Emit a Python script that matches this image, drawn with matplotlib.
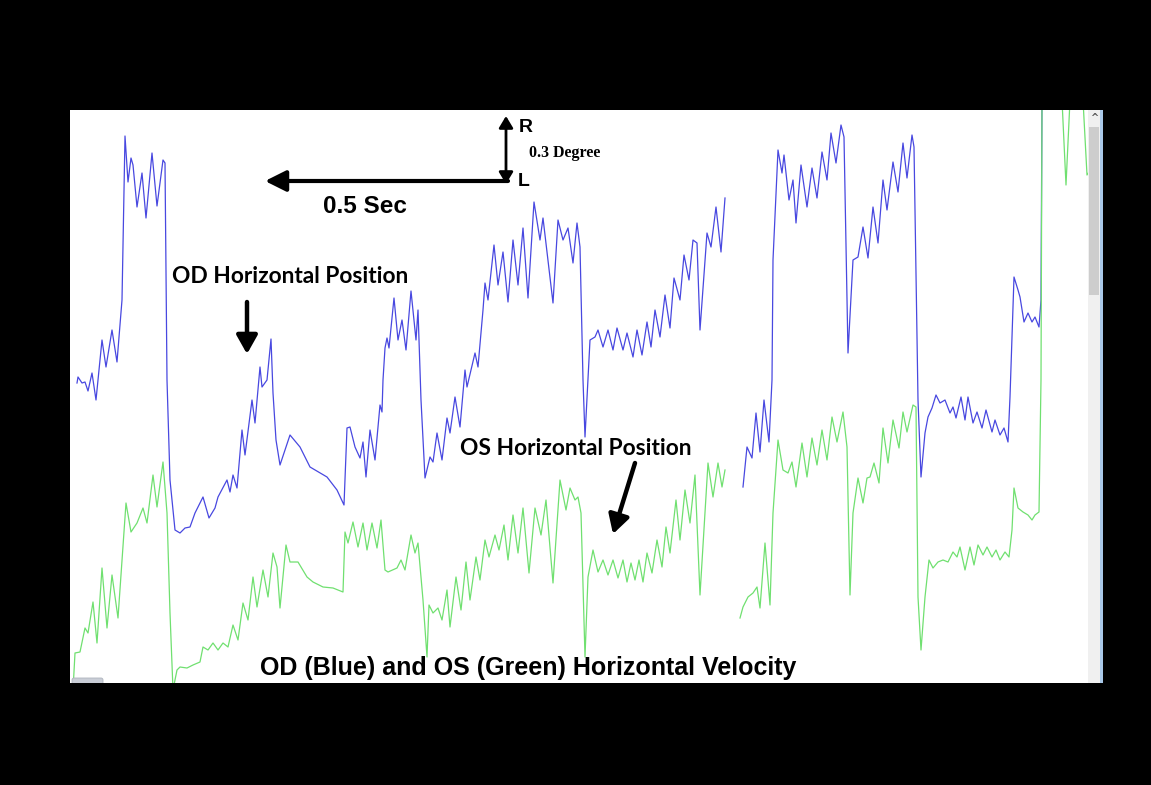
import matplotlib
matplotlib.use("Agg")
import matplotlib.pyplot as plt
from matplotlib.patches import Rectangle, FancyBboxPatch

# ---- data: sample index (time) and horizontal eye position (screen units) ----
od_t1 = [77, 78, 82, 85, 88, 92, 96, 102, 106, 112, 117, 122, 125, 128, 131, 133, 137, 142, 146, 152, 157, 163, 165,
         167, 170, 175, 180, 185, 190, 195, 203, 209, 215, 218, 227, 230, 233, 237, 242, 245, 252, 255, 260, 262, 267,
         271, 273, 276, 280, 290, 300, 310, 327, 337, 344, 347, 350, 355, 360, 363, 366, 370, 375, 380, 382, 383, 385,
         387, 389, 394, 398, 402, 406, 411, 416, 418, 421, 425, 430, 433, 437, 442, 447, 450, 455, 460, 465, 467, 475,
         478, 483, 485, 488, 494, 498, 503, 508, 513, 518, 523, 528, 534, 540, 543, 553, 558, 563, 568, 573, 577, 580,
         583, 585, 588, 590, 595, 598, 603, 608, 613, 617, 623, 627, 633, 637, 642, 647, 651, 655, 660, 665, 670, 674,
         680, 684, 689, 693, 697, 700, 707, 711, 716, 721, 725]
od_p1 = [383, 377, 383, 382, 391, 373, 400, 340, 367, 330, 362, 300, 136, 182, 158, 165, 207, 173, 218, 153, 206, 160, 163,
         380, 480, 530, 533, 528, 527, 513, 497, 518, 508, 497, 480, 492, 475, 488, 430, 455, 400, 423, 367, 387, 380,
         339, 393, 440, 465, 435, 447, 467, 477, 490, 505, 428, 427, 447, 458, 442, 477, 430, 460, 405, 412, 380, 348,
         338, 348, 298, 340, 320, 350, 291, 340, 310, 400, 478, 457, 462, 433, 460, 418, 433, 397, 427, 370, 387, 353,
         367, 310, 283, 300, 245, 285, 252, 302, 240, 285, 228, 298, 202, 240, 218, 303, 220, 240, 228, 263, 223, 247,
         380, 437, 380, 340, 337, 330, 347, 330, 350, 328, 350, 333, 357, 330, 355, 322, 347, 310, 337, 295, 328, 278,
         300, 255, 280, 240, 243, 330, 233, 247, 207, 252, 198]

od_t2 = [743, 747, 752, 756, 760, 764, 769, 772, 773, 778, 782, 784, 789, 793, 796, 801, 807, 812, 817, 822, 827, 831, 836,
         841, 844, 848, 853, 858, 863, 868, 873, 878, 883, 887, 893, 898, 903, 907, 912, 914, 918, 921, 925, 928, 932,
         936, 940, 945, 950, 953, 956, 961, 965, 968, 973, 977, 982, 986, 992, 995, 1000, 1004, 1008, 1010, 1014, 1018,
         1020, 1024, 1028, 1032, 1035, 1039, 1041, 1042]
od_p2 = [487, 447, 458, 413, 452, 400, 442, 380, 260, 150, 173, 155, 200, 180, 223, 165, 207, 168, 198, 152, 180, 133, 163,
         125, 137, 353, 260, 257, 227, 258, 207, 243, 180, 210, 162, 192, 143, 178, 135, 147, 400, 477, 433, 417, 408,
         395, 403, 400, 413, 407, 418, 397, 420, 397, 423, 412, 428, 410, 432, 420, 435, 428, 442, 397, 277, 290,
         297, 322, 313, 322, 317, 327, 300, 100]

os_t1 = [73, 75, 80, 85, 88, 93, 97, 102, 107, 112, 118, 126, 131, 137, 143, 147, 153, 157, 163, 167, 170, 173, 177, 180,
         187, 193, 200, 203, 208, 213, 218, 223, 228, 233, 238, 243, 248, 253, 257, 263, 268, 273, 277, 280, 286, 290,
         298, 307, 313, 323, 333, 343, 345, 348, 353, 358, 363, 367, 372, 377, 381, 385, 388, 397, 401, 405, 411, 415,
         418, 423, 427, 429, 433, 438, 442, 447, 450, 456, 461, 466, 470, 476, 480, 485, 489, 495, 499, 504, 508, 513,
         518, 523, 529, 535, 541, 546, 553, 560, 566, 570, 575, 578, 581, 585, 588, 593, 598, 603, 608, 613, 618, 623,
         627, 631, 635, 639, 643, 647, 652, 657, 662, 666, 670, 676, 680, 685, 690, 695, 700, 708, 713, 718, 722, 725]
os_p1 = [690, 653, 652, 628, 633, 602, 643, 568, 628, 575, 618, 503, 532, 523, 508, 523, 475, 507, 462, 513, 613, 690, 670, 667,
         668, 665, 662, 647, 650, 643, 650, 643, 647, 625, 640, 603, 620, 577, 607, 570, 597, 553, 567, 608, 545, 562,
         562, 577, 582, 587, 588, 592, 532, 543, 522, 547, 523, 550, 523, 548, 520, 570, 572, 568, 560, 570, 535, 553,
         543, 600, 657, 605, 613, 608, 620, 590, 627, 577, 610, 562, 600, 557, 580, 540, 557, 535, 550, 525, 560, 515,
         553, 508, 573, 508, 535, 500, 583, 480, 510, 488, 500, 497, 513, 657, 577, 550, 572, 560, 575, 560, 578, 560,
         582, 563, 580, 560, 582, 553, 573, 540, 567, 527, 553, 500, 540, 490, 523, 475, 595, 463, 497, 463, 487, 470]

os_t2 = [740, 743, 748, 753, 757, 760, 765, 770, 773, 778, 783, 788, 792, 796, 802, 807, 812, 817, 822, 827, 832, 837, 843,
         847, 850, 853, 858, 863, 867, 870, 874, 879, 883, 888, 893, 899, 903, 907, 913, 916, 918, 921, 925, 929, 933,
         938, 943, 948, 953, 957, 960, 965, 970, 974, 978, 983, 987, 992, 996, 1000, 1005, 1009, 1012, 1014, 1018, 1023,
         1028, 1032, 1035, 1039, 1041, 1042]
os_p2 = [618, 607, 597, 593, 587, 608, 543, 605, 513, 440, 470, 473, 462, 487, 443, 477, 438, 465, 430, 460, 417, 442, 412,
         447, 595, 513, 478, 503, 478, 477, 463, 483, 428, 463, 420, 448, 412, 432, 405, 407, 597, 650, 597, 560, 568,
         562, 560, 562, 552, 557, 547, 570, 547, 565, 545, 555, 547, 557, 550, 560, 552, 557, 530, 488, 508, 512,
         515, 520, 515, 512, 380, 100]

os_t3 = [1062, 1066, 1070]
os_p3 = [100, 185, 100]
os_t4 = [1083, 1087, 1089]
os_p4 = [100, 175, 172]

BLUE = "#4848e0"
GREEN = "#70e070"

W, H = 1151, 785
fig = plt.figure(figsize=(W / 100, H / 100), dpi=100, facecolor="black")

# panel region (screen area of the recording software)
L, R, T, B = 70, 1103, 110, 683
ax = fig.add_axes([L / W, (H - B) / H, (R - L) / W, (B - T) / H])
ax.set_xlim(L, R)
ax.set_ylim(B, T)
ax.set_facecolor("white")
ax.set_xticks([])
ax.set_yticks([])
for s in ax.spines.values():
    s.set_visible(False)

lw = 0.9
ax.plot(od_t1, od_p1, color=BLUE, lw=lw)
ax.plot(od_t2, od_p2, color=BLUE, lw=lw)
ax.plot(os_t1, os_p1, color=GREEN, lw=lw)
ax.plot(os_t2, os_p2, color=GREEN, lw=lw)
ax.plot(os_t3, os_p3, color=GREEN, lw=lw)
ax.plot(os_t4, os_p4, color=GREEN, lw=lw)

# scrollbar decoration on the right
ax.add_patch(Rectangle((1088, T), 12, B - T, facecolor="#f0f0f0", edgecolor="none", zorder=5))
ax.add_patch(Rectangle((1089, 127), 10, 168, facecolor="#cdcdcd", edgecolor="none", zorder=6))
ax.add_patch(Rectangle((1100, T), 3, B - T, facecolor="#a9c8e8", edgecolor="none", zorder=6))
ax.text(1094, 118, "^", ha="center", va="center", fontsize=7, color="#555555", zorder=7,
        family="DejaVu Sans", fontweight="bold")
# small horizontal scrollbar tab bottom-left
ax.add_patch(FancyBboxPatch((72, 678), 31, 8, boxstyle="round,pad=0,rounding_size=2",
                            facecolor="#c9cdd6", edgecolor="#aeb3bd", lw=0.6, zorder=6, clip_on=True))

# scale bars
ax.annotate("", xy=(265, 181), xytext=(508, 181),
            arrowprops=dict(arrowstyle="-|>,head_length=0.9,head_width=0.45", color="black", lw=3,
                            shrinkA=0, shrinkB=0, mutation_scale=14))
ax.annotate("", xy=(506, 116), xytext=(506, 184),
            arrowprops=dict(arrowstyle="<|-|>,head_length=0.5,head_width=0.3", color="black", lw=2,
                            shrinkA=0, shrinkB=0, mutation_scale=14))
ax.text(519, 132, "R", fontsize=14, fontweight="bold", family="Liberation Sans", ha="left", va="baseline")
ax.text(518, 186, "L", fontsize=14, fontweight="bold", family="Liberation Sans", ha="left", va="baseline")
ax.text(529, 157, "0.3 Degree", fontsize=11.5, fontweight="bold", family="Liberation Serif", ha="left", va="baseline")
ax.text(365, 213, "0.5 Sec", fontsize=17.5, fontweight="bold", family="Liberation Sans", ha="center", va="baseline")

# labels
ax.text(290, 283, "OD Horizontal Position", fontsize=16.4, fontweight="bold", family="Lato",
        ha="center", va="baseline")
ax.annotate("", xy=(247, 354), xytext=(247, 302),
            arrowprops=dict(arrowstyle="-|>,head_length=0.8,head_width=0.45", color="black", lw=3.2,
                            shrinkA=0, shrinkB=0, mutation_scale=14))
ax.text(576, 455, "OS Horizontal Position", fontsize=16.4, fontweight="bold", family="Lato",
        ha="center", va="baseline")
ax.annotate("", xy=(613, 534), xytext=(635, 463),
            arrowprops=dict(arrowstyle="-|>,head_length=0.8,head_width=0.45", color="black", lw=3.2,
                            shrinkA=0, shrinkB=0, mutation_scale=14))
ax.text(528, 675, "OD (Blue) and OS (Green) Horizontal Velocity", fontsize=18, fontweight="bold",
        family="Liberation Sans", ha="center", va="baseline", zorder=8)

fig.savefig("out.png", dpi=100, facecolor="black")
